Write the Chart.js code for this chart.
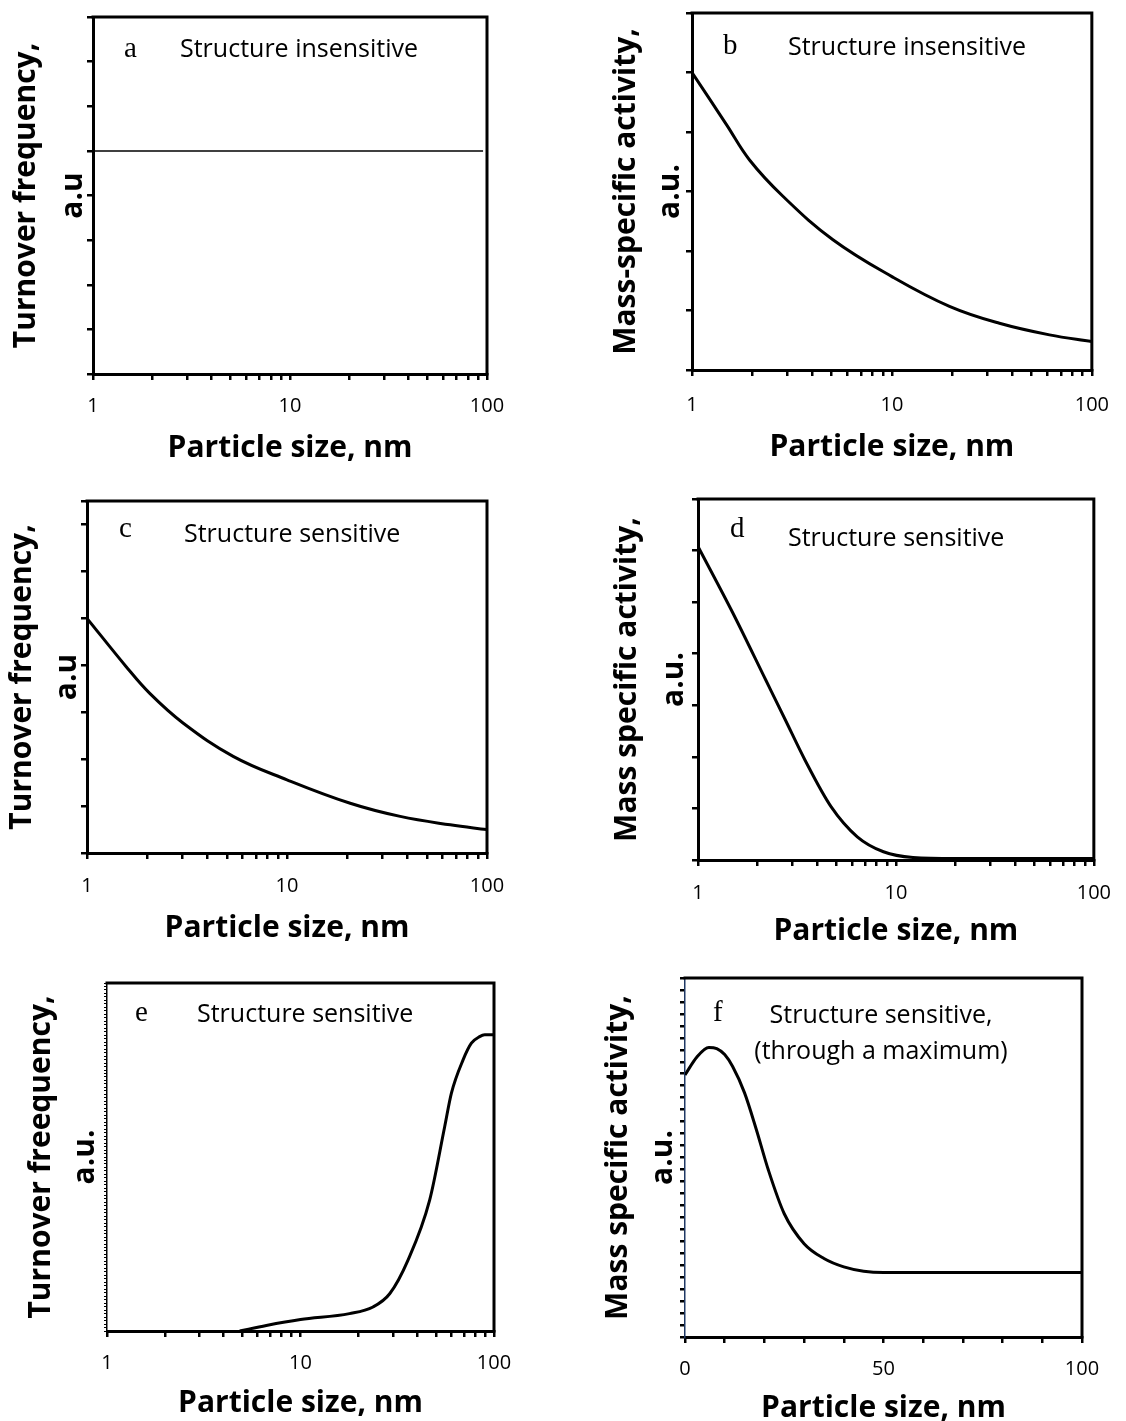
<!DOCTYPE html>
<html>
<head>
<meta charset="utf-8">
<script src="https://cdn.jsdelivr.net/npm/chart.js@4.4.1/dist/chart.umd.min.js"></script>
<style>
  body { margin: 0; background: #fff; width: 1126px; height: 1421px; position: relative; overflow: hidden; }
  canvas { position: absolute; }
  .tag { position: absolute; font-family: 'Liberation Serif', serif; font-size: 29px; line-height: 1; color: #000; }
  .note { position: absolute; font-family: 'Open Sans', sans-serif; font-size: 25px; line-height: 1; white-space: nowrap; color: #000; }
</style>
</head>
<body>
<canvas id="chartA"></canvas>
<canvas id="chartB"></canvas>
<canvas id="chartC"></canvas>
<canvas id="chartD"></canvas>
<canvas id="chartE"></canvas>
<canvas id="chartF"></canvas>

<div class="tag" style="left:124px;top:33px">a</div>
<div class="note" style="left:180px;top:35px">Structure insensitive</div>
<div class="tag" style="left:723px;top:30px">b</div>
<div class="note" style="left:788px;top:33px">Structure insensitive</div>
<div class="tag" style="left:119px;top:513px">c</div>
<div class="note" style="left:184px;top:520px">Structure sensitive</div>
<div class="tag" style="left:730px;top:513px">d</div>
<div class="note" style="left:788px;top:524px">Structure sensitive</div>
<div class="tag" style="left:135px;top:997px">e</div>
<div class="note" style="left:197px;top:1000px">Structure sensitive</div>
<div class="tag" style="left:713px;top:997px">f</div>
<div class="note" style="left:731px;top:995px;width:300px;text-align:center;line-height:36px">Structure sensitive,<br>(through a maximum)</div>

<script>
// x axis ticks
const logTicks = [1, 2, 3, 4, 5, 6, 7, 8, 9, 10, 20, 30, 40, 50, 60, 70, 80, 90, 100];
const logLabels = [1, 10, 100];
const linTicks = [0, 10, 20, 30, 40, 50, 60, 70, 80, 90, 100];
const linLabels = [0, 50, 100];

// a - structure insensitive TOF (flat)
const sizeA = [1, 95.5];
const tofA = [5, 5];

// b - structure insensitive mass activity
const sizeB = [1, 1.49, 1.94, 2.85, 5.07, 10, 19.4, 34.5, 61.4, 100];
const massB = [5.0, 4.12, 3.53, 2.92, 2.19, 1.57, 1.07, 0.785, 0.59, 0.48];

// c - structure sensitive TOF
const sizeC = [1, 1.57, 2.06, 3.02, 5.38, 10, 20.7, 36.8, 65.5, 100];
const tofC = [5.0, 3.97, 3.4, 2.77, 2.06, 1.56, 1.06, 0.78, 0.6, 0.5];

// d - structure sensitive mass activity
const sizeD = [1, 1.5, 2.2, 2.76, 3.47, 4.71, 6.38, 8.65, 12.2, 20, 100];
const massD = [6.08, 4.79, 3.49, 2.72, 1.94, 1.03, 0.45, 0.16, 0.05, 0.03, 0.03];

// e - structure sensitive TOF rising
const sizeE = [4.85, 6.66, 10, 17.9, 23.7, 28.9, 35.9, 46.5, 55.6, 60.2, 69.2, 76.4, 84.3, 89.5, 100];
const tofE = [0, 1.6, 3.3, 5.0, 6.9, 10.7, 20.3, 37.6, 58.7, 68.3, 77.9, 82.7, 84.6, 85.1, 85.1];

// f - through a maximum (linear x)
const sizeF = [0, 3, 6, 8, 10, 12, 15, 18, 21, 25, 30, 35, 40, 45, 50, 100];
const massF = [21.9, 23.4, 24.2, 24.1, 23.6, 22.6, 20.4, 17.3, 13.95, 10.3, 7.8, 6.56, 5.86, 5.5, 5.39, 5.39];

const xTitle = 'Particle size, nm';

Chart.defaults.font.family = "'Open Sans', sans-serif";
Chart.defaults.color = '#000';

// top and right sides of the plot box
const framePlugin = {
  id: 'frame',
  afterDraw(chart) {
    const { ctx, chartArea } = chart;
    ctx.save();
    ctx.strokeStyle = '#000';
    ctx.lineWidth = 3;
    ctx.lineCap = 'square';
    ctx.beginPath();
    ctx.moveTo(chartArea.left, chartArea.top);
    ctx.lineTo(chartArea.right, chartArea.top);
    ctx.lineTo(chartArea.right, chartArea.bottom);
    ctx.stroke();
    ctx.restore();
  }
};

function makePanel(cfg) {
  const el = document.getElementById(cfg.id);
  const [cl, ct, cw, ch] = cfg.canvas;
  el.width = cw;
  el.height = ch;
  el.style.left = cl + 'px';
  el.style.top = ct + 'px';
  const [L, R, T, B] = cfg.box;
  const gap = cfg.gap;
  const smooth = cfg.smooth || 'monotone';

  new Chart(el, {
    type: 'line',
    data: {
      datasets: [{
        data: cfg.xs.map((x, i) => ({ x: x, y: cfg.ys[i] })),
        borderColor: '#000',
        borderWidth: cfg.lineWidth || 3,
        pointRadius: 0,
        cubicInterpolationMode: smooth === 'monotone' ? 'monotone' : 'default',
        tension: 0.4,
        fill: false
      }]
    },
    options: {
      responsive: false,
      animation: false,
      devicePixelRatio: 1,
      layout: { padding: { top: T - ct, right: cl + cw - R, left: 0, bottom: 0 } },
      plugins: { legend: { display: false }, tooltip: { enabled: false } },
      scales: {
        x: {
          type: cfg.xType,
          min: cfg.xMin,
          max: cfg.xMax,
          afterFit: s => { s.height = ct + ch - B; },
          afterBuildTicks: s => { s.ticks = cfg.xTicks.map(v => ({ value: v })); },
          ticks: {
            autoSkip: false,
            maxRotation: 0,
            padding: cfg.labelY + 2 - B - 18,
            color: '#000',
            font: { size: 20 },
            callback: v => cfg.xLabels.includes(v) ? String(v) : ''
          },
          grid: { drawOnChartArea: false, tickLength: 6, color: '#000', lineWidth: 2.5, tickWidth: 2.5, tickColor: '#000' },
          border: { color: '#000', width: 3 },
          title: {
            display: true,
            text: xTitle,
            color: '#000',
            font: { size: 30, weight: 'bold', lineHeight: 1 },
            padding: { top: 0, bottom: ct + ch - (cfg.xTitleY + 3.5) - 15 }
          }
        },
        y: {
          min: 0,
          max: cfg.yMax,
          afterFit: s => { s.width = L - cl; },
          ticks: { display: false, stepSize: 1, autoSkip: false },
          grid: {
            drawOnChartArea: false,
            tickLength: cfg.yTickLen || 6,
            color: '#000',
            lineWidth: cfg.yTickWidth || 2.5,
            tickWidth: cfg.yTickWidth || 2.5,
            tickColor: '#000'
          },
          border: { color: cfg.yBorderColor || '#000', width: cfg.yBorderWidth || 3 },
          title: {
            display: true,
            text: cfg.yTitle,
            color: '#000',
            font: { size: 30, weight: 'bold', lineHeight: gap / 30 },
            padding: { top: Math.max(0, cfg.yTitleX - cl - gap / 2), bottom: 0 }
          }
        }
      }
    },
    plugins: [framePlugin]
  });
}

makePanel({ id: 'chartA', canvas: [0, 0, 560, 480], box: [93, 487, 17, 374],
  xType: 'logarithmic', xMin: 1, xMax: 100, xTicks: logTicks, xLabels: logLabels,
  xs: sizeA, ys: tofA, yMax: 8, lineWidth: 1.5,
  yTitle: ['Turnover frequency,', 'a.u'], yTitleX: 26.7, gap: 46.7, xTitleY: 445.4, labelY: 404.5 });

makePanel({ id: 'chartB', canvas: [560, 0, 566, 480], box: [692, 1092, 13, 370],
  xType: 'logarithmic', xMin: 1, xMax: 100, xTicks: logTicks, xLabels: logLabels,
  xs: sizeB, ys: massB, yMax: 6, smooth: 'tension',
  yTitle: ['Mass-specific activity,', 'a.u.'], yTitleX: 626.7, gap: 43.3, xTitleY: 443.5, labelY: 403 });

makePanel({ id: 'chartC', canvas: [0, 480, 560, 480], box: [87, 487, 501, 853],
  xType: 'logarithmic', xMin: 1, xMax: 100, xTicks: logTicks, xLabels: logLabels,
  xs: sizeC, ys: tofC, yMax: 7.5, smooth: 'tension',
  yTitle: ['Turnover frequency,', 'a.u'], yTitleX: 21.7, gap: 45, xTitleY: 925, labelY: 884 });

makePanel({ id: 'chartD', canvas: [560, 480, 566, 480], box: [698, 1101, 499, 860],
  xType: 'logarithmic', xMin: 1, xMax: 100, xTicks: logTicks, xLabels: logLabels,
  xs: sizeD, ys: massD, yMax: 7,
  yTitle: ['Mass specific activity,', 'a.u.'], yTitleX: 627.7, gap: 46.7, xTitleY: 927.5, labelY: 891 });

makePanel({ id: 'chartE', canvas: [0, 960, 560, 461], box: [107, 494, 983, 1331],
  xType: 'logarithmic', xMin: 1, xMax: 100, xTicks: logTicks, xLabels: logLabels,
  xs: sizeE, ys: tofE, yMax: 100, yTickLen: 3, yTickWidth: 1, yBorderWidth: 1.5,
  yTitle: ['Turnover freequency,', 'a.u.'], yTitleX: 41.7, gap: 43.3, xTitleY: 1400, labelY: 1361 });

makePanel({ id: 'chartF', canvas: [560, 960, 566, 461], box: [685, 1082, 978, 1337],
  xType: 'linear', xMin: 0, xMax: 100, xTicks: linTicks, xLabels: linLabels,
  xs: sizeF, ys: massF, yMax: 30, yTickLen: 5, yBorderWidth: 1.5, yBorderColor: '#1f3864',
  yTitle: ['Mass specific activity,', 'a.u.'], yTitleX: 618.4, gap: 45, xTitleY: 1405, labelY: 1367 });
</script>
</body>
</html>
